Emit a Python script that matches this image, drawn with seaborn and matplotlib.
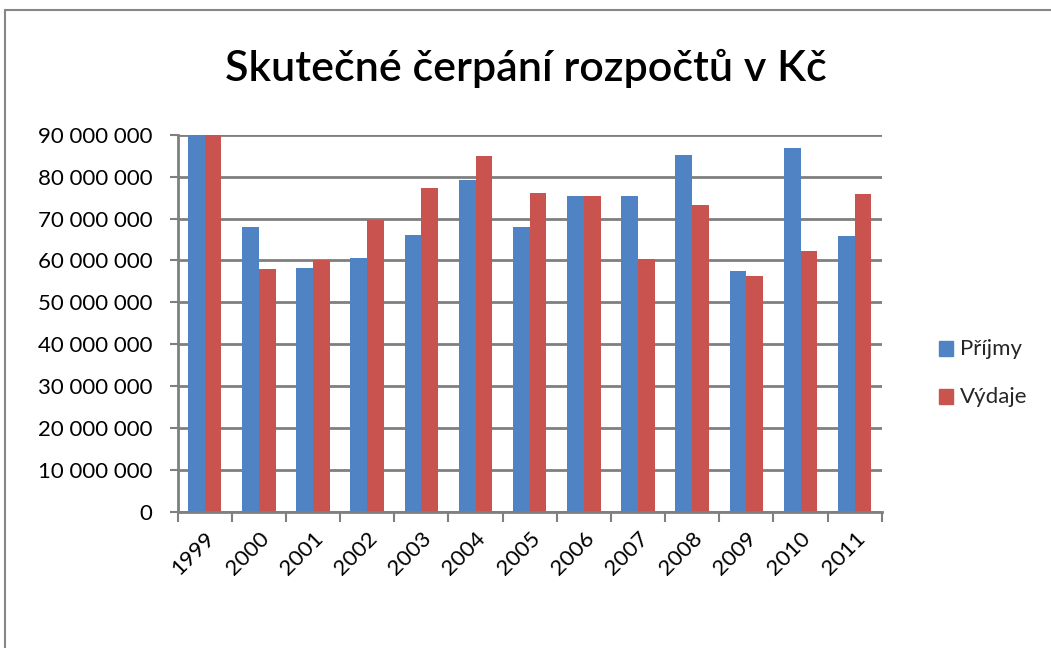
import matplotlib
matplotlib.use("Agg")
import matplotlib.pyplot as plt
import matplotlib.ticker as mticker
from matplotlib.patches import Rectangle
import seaborn as sns
import pandas as pd

years = ["1999", "2000", "2001", "2002", "2003", "2004", "2005",
         "2006", "2007", "2008", "2009", "2010", "2011"]
prijmy = [89.9, 68.0, 58.2, 60.6, 66.0, 79.2, 68.0,
          75.3, 75.3, 85.1, 57.6, 86.8, 65.8]
vydaje = [89.9, 58.0, 60.0, 69.6, 77.2, 85.0, 76.2,
          75.3, 60.4, 73.2, 56.2, 62.2, 75.8]
series = ["Příjmy", "Výdaje"]
colors = ["#5083C4", "#C9534F"]

df = pd.DataFrame({
    "rok": years * 2,
    "hodnota": [v * 1e6 for v in prijmy + vydaje],
    "typ": [series[0]] * len(years) + [series[1]] * len(years),
})

sns.set_theme(style="white")
plt.rcParams["font.family"] = ["Lato", "DejaVu Sans"]

fig = plt.figure(figsize=(10.51, 6.48), dpi=100)
ax = fig.add_axes([0.169, 0.21, 0.67, 0.582])

sns.barplot(data=df, x="rok", y="hodnota", hue="typ", palette=colors,
            width=0.62, saturation=1, linewidth=0, ax=ax, legend=False)

ax.set_ylim(0, 90e6)
ax.set_xlim(-0.5, len(years) - 0.5)
ax.yaxis.set_major_locator(mticker.MultipleLocator(10e6))
ax.yaxis.set_major_formatter(
    mticker.FuncFormatter(lambda v, p: f"{int(v):,}".replace(",", " ")))
ax.grid(axis="y", color="#7F7F7F", linewidth=2)
ax.set_axisbelow(True)
for s in ["top", "right"]:
    ax.spines[s].set_visible(False)
ax.spines["left"].set_color("#7F7F7F")
ax.spines["bottom"].set_color("#7F7F7F")
ax.spines["left"].set_linewidth(2)
ax.spines["bottom"].set_linewidth(2)

ax.set_xlabel("")
ax.set_ylabel("")
ax.tick_params(axis="y", labelsize=16, length=6, color="#7F7F7F",
               width=1.5, direction="out", left=True, pad=12,
               labelcolor="black")
ax.tick_params(axis="x", which="major", length=0, labelsize=16, pad=12,
               labelcolor="black")
ax.set_xticks([i + 0.5 for i in range(-1, len(years))], minor=True)
ax.tick_params(axis="x", which="minor", length=7, color="#7F7F7F",
               width=1.5, bottom=True)
plt.setp(ax.get_xticklabels(), rotation=45, ha="right",
         rotation_mode="anchor")

fig.text(0.5, 0.895, "Skutečné čerpání rozpočtů v Kč", ha="center",
         va="center", fontsize=31, fontweight="semibold", color="black")

# legend
for i, (name, col) in enumerate(zip(series, colors)):
    y = 0.462 - i * 0.074
    fig.patches.append(Rectangle((0.893, y - 0.012), 0.0135, 0.024,
                                 transform=fig.transFigure, color=col))
    fig.text(0.913, y, name, va="center", fontsize=16)

# outer frame
fig.patches.append(Rectangle((0.005, -0.05), 1.2, 1.035,
                             transform=fig.transFigure, fill=False,
                             edgecolor="#868686", linewidth=1.5))

fig.savefig("out.png", dpi=100)
